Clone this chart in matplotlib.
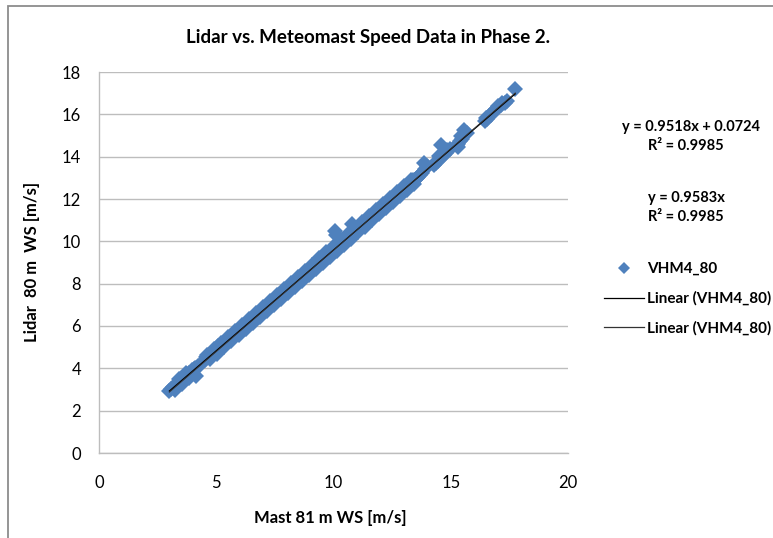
import matplotlib
matplotlib.use("Agg")
import matplotlib.pyplot as plt
from matplotlib.lines import Line2D

plt.rcParams['font.family'] = ['Lato', 'DejaVu Sans']

title = "Lidar vs. Meteomast Speed Data in Phase 2."
xlabel = "Mast 81 m WS [m/s]"
ylabel = "Lidar  80 m  WS [m/s]"
series_name = "VHM4_80"
trend_name = "Linear (VHM4_80)"

# fitted trendline coefficients (from the chart labels)
fit1_slope, fit1_icpt = 0.9518, 0.0724
fit2_slope = 0.9583
r2_1 = 0.9985
r2_2 = 0.9985

mast_ws = [
    3.00, 3.08, 3.15, 3.22, 3.30, 3.38, 3.45, 3.52, 3.58, 3.65, 3.70, 3.76, 3.82, 3.88, 3.95, 4.00, 4.05, 4.10, 4.15, 4.22, 4.28,
    4.50, 4.55, 4.62, 4.68, 4.75, 4.80, 4.86, 4.92, 4.98, 5.03, 5.08, 5.12, 5.18, 5.25, 5.30, 5.36, 5.42, 5.48, 5.55, 5.60, 5.66, 5.72, 5.78, 5.85, 5.90, 5.96,
    6.02, 6.08, 6.15, 6.20, 6.26, 6.32, 6.38, 6.45, 6.50, 6.56, 6.62, 6.68, 6.74, 6.80, 6.85, 6.92, 6.98, 7.05, 7.12, 7.18, 7.25, 7.32, 7.38, 7.45,
    7.52, 7.58, 7.64, 7.70, 7.76, 7.82, 7.88, 7.94, 8.00, 8.06, 8.12, 8.18, 8.24, 8.30, 8.36, 8.42, 8.48, 8.54, 8.60, 8.66, 8.72, 8.78, 8.84, 8.90, 8.96,
    9.02, 9.08, 9.14, 9.20, 9.26, 9.32, 9.38, 9.44, 9.50, 9.56, 9.62, 9.68, 9.74, 9.80, 9.86, 9.92, 9.98, 10.06, 10.04, 10.12, 10.10, 10.16, 10.22, 10.28, 10.34, 10.40, 10.46,
    10.52, 10.58, 10.64, 10.70, 10.80, 10.76, 10.82, 10.88, 10.94, 11.00, 11.06, 11.12, 11.18, 11.24, 11.30, 11.36, 11.42, 11.48, 11.54, 11.60, 11.66, 11.72, 11.78, 11.84, 11.90, 11.96,
    12.02, 12.08, 12.14, 12.20, 12.26, 12.32, 12.38, 12.44, 12.50, 12.56, 12.62, 12.68, 12.74, 12.80, 12.86, 12.92, 12.98, 13.04, 13.10, 13.16, 13.22, 13.28, 13.34, 13.40, 13.46,
    13.55, 13.62, 13.70, 13.78, 13.86, 13.92, 13.98,
    14.28, 14.36, 14.45, 14.55, 14.60, 14.70, 14.80, 14.95, 14.35, 14.50, 14.85,
    15.25, 15.32, 15.40, 15.48, 15.55, 15.62, 15.70, 15.30, 15.45,
    16.45, 16.55, 16.65, 16.75, 16.85, 16.95, 17.05, 17.15, 17.30, 17.40, 16.50, 16.70, 17.00, 17.20,
    17.75,
    # lower edge of the band
    3.25, 3.55, 3.85, 4.75, 5.05, 5.35, 5.65, 5.95, 6.25, 6.55, 6.85, 7.15, 7.45, 7.75, 8.05, 8.35, 8.65,
    8.95, 9.25, 9.55, 9.85, 10.15, 10.45, 10.75, 11.05, 11.35, 11.65, 11.95, 12.25, 12.55, 12.85, 13.15, 13.45,
    # upper edge of the band
    3.40, 3.70, 4.60, 4.90, 5.20, 5.50, 5.80, 6.10, 6.40, 6.70, 7.00, 7.30, 7.60, 7.90, 8.20, 8.50,
    8.80, 9.10, 9.40, 9.70, 10.00, 10.30, 10.60, 10.90, 11.20, 11.50, 11.80, 12.10, 12.40, 12.70, 13.00, 13.30,
]
lidar_ws = [
    2.95, 3.02, 3.10, 3.12, 3.22, 3.30, 3.35, 3.45, 3.50, 3.55, 3.62, 3.68, 3.80, 3.78, 3.90, 3.86, 3.95, 4.02, 3.65, 4.10, 4.12,
    4.40, 4.52, 4.50, 4.62, 4.60, 4.72, 4.70, 4.85, 4.80, 4.95, 5.05, 4.92, 5.02, 5.10, 5.05, 5.18, 5.20, 5.28, 5.30, 5.38, 5.45, 5.42, 5.55, 5.58, 5.62, 5.70,
    5.75, 5.82, 5.85, 5.95, 5.98, 6.05, 6.08, 6.15, 6.22, 6.25, 6.30, 6.40, 6.42, 6.55, 6.50, 6.60, 6.62, 6.72, 6.78, 6.85, 6.88, 7.00, 7.02, 7.12,
    7.15, 7.25, 7.28, 7.36, 7.40, 7.50, 7.52, 7.62, 7.65, 7.75, 7.78, 7.86, 7.90, 7.98, 8.02, 8.10, 8.12, 8.22, 8.25, 8.32, 8.35, 8.45, 8.48, 8.56, 8.60,
    8.68, 8.70, 8.80, 8.82, 8.92, 8.95, 9.02, 9.08, 9.12, 9.20, 9.22, 9.30, 9.35, 9.40, 9.46, 9.50, 9.58, 10.48, 9.62, 10.30, 9.68, 9.72, 9.80, 9.85, 9.92, 9.98, 10.02,
    10.10, 10.15, 10.22, 10.25, 10.82, 10.32, 10.38, 10.45, 10.50, 10.55, 10.62, 10.68, 10.72, 10.80, 10.85, 10.90, 10.98, 11.02, 11.08, 11.12, 11.20, 11.25, 11.30, 11.38, 11.42, 11.48,
    11.52, 11.60, 11.65, 11.70, 11.78, 11.82, 11.88, 11.95, 12.00, 12.05, 12.10, 12.18, 12.22, 12.28, 12.35, 12.38, 12.45, 12.50, 12.58, 12.62, 12.70, 12.75, 12.78, 12.88, 12.90,
    13.00, 13.05, 13.12, 13.25, 13.68, 13.40, 13.55,
    13.62, 13.75, 13.80, 13.95, 14.55, 14.10, 14.18, 14.35, 13.72, 14.05, 14.30,
    14.55, 14.62, 14.72, 14.85, 15.28, 15.05, 15.10, 14.48, 15.00,
    15.68, 15.80, 15.90, 16.05, 16.18, 16.25, 16.35, 16.45, 16.55, 16.62, 15.82, 15.95, 16.40, 16.55,
    17.18,
    # lower edge of the band
    2.99, 3.28, 3.56, 4.42, 4.70, 4.99, 5.27, 5.56, 5.85, 6.13, 6.42, 6.70, 6.99, 7.27, 7.56, 7.85, 8.13,
    8.42, 8.70, 8.99, 9.27, 9.56, 9.85, 10.13, 10.42, 10.70, 10.99, 11.27, 11.56, 11.85, 12.13, 12.42, 12.70,
    # upper edge of the band
    3.48, 3.76, 4.62, 4.91, 5.19, 5.48, 5.76, 6.05, 6.33, 6.62, 6.91, 7.19, 7.48, 7.76, 8.05, 8.33,
    8.62, 8.90, 9.19, 9.48, 9.76, 10.05, 10.33, 10.62, 10.90, 11.19, 11.47, 11.76, 12.05, 12.33, 12.62, 12.90,
]

blue = "#4F81BD"
fig = plt.figure(figsize=(7.73, 5.38), dpi=100)
# outer chart border
fig.add_artist(plt.Rectangle((8 / 773, -0.01), 1.0, 1.0 - 6 / 538 + 0.01, transform=fig.transFigure,
                             fill=False, edgecolor="#8C8C8C", linewidth=1.3))

ax = fig.add_axes([99 / 773, 1 - 453 / 538, (568 - 99) / 773, (453 - 72) / 538])
ax.set_xlim(0, 20)
ax.set_ylim(0, 18)
ax.set_xticks(range(0, 21, 5))
ax.set_yticks(range(0, 19, 2))
ax.yaxis.grid(True, color="#BDBDBD", linewidth=1.0)
ax.set_axisbelow(True)
for s in ["top", "right"]:
    ax.spines[s].set_visible(False)
for s in ["left", "bottom"]:
    ax.spines[s].set_color("#BDBDBD")
    ax.spines[s].set_linewidth(1.0)
ax.tick_params(length=0, labelsize=12, colors="black")
ax.tick_params(axis="y", pad=13)
ax.tick_params(axis="x", pad=16)

ax.plot(mast_ws, lidar_ws, linestyle="none", marker="D", markersize=8.5,
        color=blue, markeredgewidth=0, zorder=2)

xmin, xmax = min(mast_ws), max(mast_ws)
ax.plot([xmin, xmax], [fit1_slope * xmin + fit1_icpt, fit1_slope * xmax + fit1_icpt],
        color="black", linewidth=0.9, zorder=3)
ax.plot([xmin, xmax], [fit2_slope * xmin, fit2_slope * xmax],
        color="#333333", linewidth=0.7, zorder=3)

fig.text(368 / 773, 1 - 38 / 538, title, ha="center", va="center", fontsize=13.5, fontweight="bold")
fig.text(330 / 773, 1 - 518 / 538, xlabel, ha="center", va="center", fontsize=12, fontweight="bold")
fig.text(32 / 773, 1 - 262 / 538, ylabel, ha="center", va="center", fontsize=12, fontweight="bold",
         rotation=90)

fig.text(691 / 773, 1 - 127 / 538, f"y = {fit1_slope:.4f}x + {fit1_icpt:.4f}", ha="center", va="center",
         fontsize=10.5, fontweight="bold")
fig.text(686 / 773, 1 - 146 / 538, f"R² = {r2_1:.4f}", ha="center", va="center", fontsize=10.5, fontweight="bold")
fig.text(686 / 773, 1 - 198 / 538, f"y = {fit2_slope:.4f}x", ha="center", va="center", fontsize=10.5, fontweight="bold")
fig.text(686 / 773, 1 - 217 / 538, f"R² = {r2_2:.4f}", ha="center", va="center", fontsize=10.5, fontweight="bold")

handles = [
    Line2D([], [], linestyle="none", marker="D", markersize=6.5, color=blue, markeredgewidth=0),
    Line2D([], [], color="black", linewidth=0.9),
    Line2D([], [], color="#333333", linewidth=0.9),
]
fig.legend(handles, [series_name, trend_name, trend_name], loc="upper left",
           bbox_to_anchor=(598 / 773, 1 - 256 / 538), frameon=False,
           prop={"size": 11, "weight": "bold"},
           handlelength=2.6, handletextpad=0.2, labelspacing=1.0, borderaxespad=0)

fig.savefig("out.png", dpi=100)
